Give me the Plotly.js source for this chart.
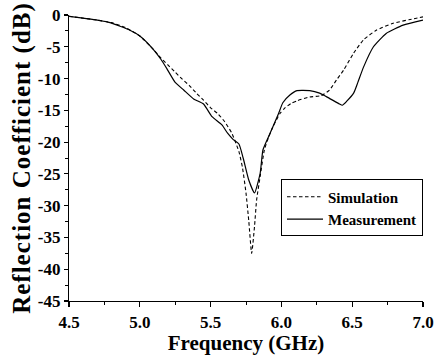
<!DOCTYPE html>
<html><head><meta charset="utf-8">
<script src="https://cdn.plot.ly/plotly-3.0.1.min.js"></script>
<style>html,body{margin:0;padding:0;background:#fff}#chart{width:438px;height:355px}
.ytitle{letter-spacing:1px}</style>
</head><body><div id="chart"></div>
<script>
const simFreq = [4.5,4.6,4.7,4.8,4.9,5.0,5.1,5.15,5.2,5.25,5.3,5.35,5.4,5.45,5.5,5.55,5.6,5.65,5.7,5.725,5.75,5.77,5.79,5.81,5.825,5.85,5.88,5.91,5.94,5.99,6.025,6.07,6.11,6.2,6.28,6.34,6.39,6.44,6.51,6.58,6.67,6.79,6.91,7.0];
const simDB = [-0.2,-0.5,-0.8,-1.2,-2.0,-3.3,-5.5,-6.8,-7.9,-9.0,-10.1,-11.1,-12.3,-13.4,-14.6,-15.5,-16.8,-18.6,-21.5,-24.0,-28.0,-32.5,-37.5,-33.3,-29.1,-25.4,-21.2,-19.2,-17.6,-15.5,-14.6,-13.9,-13.5,-12.9,-12.7,-11.8,-10.2,-8.65,-6.0,-3.9,-2.4,-1.3,-0.7,-0.3];
const measFreq = [4.5,4.6,4.7,4.79,4.93,5.0,5.095,5.15,5.19,5.25,5.31,5.38,5.45,5.51,5.58,5.62,5.66,5.70,5.73,5.77,5.81,5.85,5.87,5.92,5.98,6.01,6.06,6.11,6.20,6.27,6.33,6.41,6.43,6.46,6.51,6.54,6.58,6.65,6.74,6.86,7.0];
const measDB = [-0.2,-0.5,-0.8,-1.2,-2.4,-3.3,-5.4,-7.0,-8.4,-10.6,-11.8,-13.2,-14.0,-16.0,-17.3,-18.6,-19.6,-20.3,-22.5,-26.0,-28.0,-24.9,-21.2,-18.6,-15.5,-13.8,-12.6,-11.9,-11.9,-12.3,-13.0,-14.0,-14.2,-13.6,-12.3,-10.6,-8.2,-5.0,-2.9,-1.6,-0.8];
const seriesNames = ['Simulation','Measurement'];
const xTickVals = [4.5,5.0,5.5,6.0,6.5,7.0];
const xTickText = ['4.5','5.0','5.5','6.0','6.5','7.0'];
const yTickVals = [0,-5,-10,-15,-20,-25,-30,-35,-40,-45];
const yTickText = ['0','-5','-10','-15','-20','-25','-30','-35','-40','-45'];

const font = 'Liberation Serif, Times New Roman, serif';
const b = s => '<b>' + s + '</b>';
const traces = [
  {x: simFreq, y: simDB, name: b(seriesNames[0]), mode: 'lines',
   line: {color: '#000', width: 1.1, dash: '3.5px,2.5px', shape: 'spline', smoothing: 0.5}},
  {x: measFreq, y: measDB, name: b(seriesNames[1]), mode: 'lines',
   line: {color: '#000', width: 1.2, shape: 'spline', smoothing: 0.5}}
];
const layout = {
  width: 438, height: 355,
  margin: {l: 69, r: 15, t: 15, b: 54},
  paper_bgcolor: '#fff', plot_bgcolor: '#fff',
  font: {family: font, color: '#000', size: 16, weight: 700},
  showlegend: true,
  legend: {x: 1.0, y: 0.425, xanchor: 'right', yanchor: 'top',
    bordercolor: '#000', borderwidth: 1, bgcolor: '#fff',
    font: {family: font, size: 15, color: '#000', weight: 700},
    tracegroupgap: 0, itemwidth: 36},
  xaxis: {range: [4.5, 7.0], tickvals: xTickVals, ticktext: xTickText.map(b), automargin: false,
    showline: true, linecolor: '#000', linewidth: 1.2, ticks: 'outside', ticklen: 5, tickwidth: 1.2, tickcolor: '#000',
    showgrid: false, zeroline: false, mirror: false,
    minor: {dtick: 0.25, tick0: 4.5, ticks: 'outside', ticklen: 3, tickwidth: 1, tickcolor: '#000', showgrid: false},
    tickfont: {family: font, size: 17, weight: 700, color: '#000'},
    title: {text: b('Frequency (GHz)'), font: {family: font, size: 21, weight: 700, color: '#000'}, standoff: 4}},
  yaxis: {range: [-45, 0], tickvals: yTickVals, ticktext: yTickText.map(b), automargin: false,
    showline: true, linecolor: '#000', linewidth: 1.2, ticks: 'outside', ticklen: 4, tickwidth: 1.2, tickcolor: '#000',
    showgrid: false, zeroline: false, mirror: false,
    minor: {dtick: 2.5, tick0: 0, ticks: 'outside', ticklen: 2.5, tickwidth: 1, tickcolor: '#000', showgrid: false},
    tickfont: {family: font, size: 17, weight: 700, color: '#000'},
    title: {text: b('Reflection Coefficient (dB)'), font: {family: font, size: 25, weight: 700, color: '#000'}, standoff: 0}}
};
Plotly.newPlot('chart', traces, layout, {displayModeBar: false, staticPlot: true});
</script></body></html>
